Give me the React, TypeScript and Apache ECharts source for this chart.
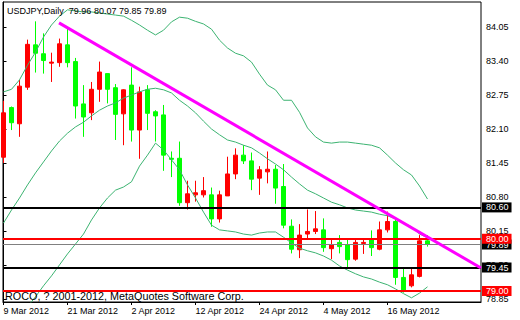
import React, { useEffect, useRef } from "react";
import * as echarts from "echarts";

const dates = [
  "9 Mar 2012", "12 Mar 2012", "13 Mar 2012", "14 Mar 2012", "15 Mar 2012", "16 Mar 2012", "19 Mar 2012", "20 Mar 2012",
  "21 Mar 2012", "22 Mar 2012", "23 Mar 2012", "26 Mar 2012", "27 Mar 2012", "28 Mar 2012", "29 Mar 2012", "30 Mar 2012",
  "2 Apr 2012", "3 Apr 2012", "4 Apr 2012", "5 Apr 2012", "6 Apr 2012", "9 Apr 2012", "10 Apr 2012", "11 Apr 2012",
  "12 Apr 2012", "13 Apr 2012", "16 Apr 2012", "17 Apr 2012", "18 Apr 2012", "19 Apr 2012", "20 Apr 2012", "23 Apr 2012",
  "24 Apr 2012", "25 Apr 2012", "26 Apr 2012", "27 Apr 2012", "30 Apr 2012", "1 May 2012", "2 May 2012", "3 May 2012",
  "4 May 2012", "7 May 2012", "8 May 2012", "9 May 2012", "10 May 2012", "11 May 2012", "14 May 2012", "15 May 2012",
  "16 May 2012", "17 May 2012", "18 May 2012", "21 May 2012", "22 May 2012", "23 May 2012",
];

const opens = [
  81.56, 82.51, 82.2, 82.9, 83.71, 83.54, 83.36, 83.37, 83.71, 83.39, 82.58, 82.41, 82.86, 83.16, 82.89, 82.39,
  82.94, 82.08, 82.85, 82.43, 82.37, 81.54, 81.54, 80.69, 80.84, 80.84, 80.84, 80.38, 80.82, 81.24, 81.6, 81.49,
  81.16, 81.28, 81.33, 81.0, 80.24, 79.79, 80.09, 80.14, 80.17, 79.81, 79.93, 79.88, 79.61, 79.91, 79.99, 79.8,
  80.17, 80.33, 79.26, 79.1, 79.28, 79.96,
];
const closes = [
  82.41, 82.22, 82.92, 83.72, 83.55, 83.41, 83.38, 83.73, 83.37, 82.54, 82.33, 82.86, 83.19, 82.86, 82.38, 82.85,
  82.08, 82.81, 82.4, 82.35, 81.6, 81.52, 80.69, 80.86, 80.88, 80.92, 80.38, 80.84, 81.24, 81.6, 81.49, 81.14,
  81.32, 81.33, 80.97, 80.26, 79.8, 80.07, 80.14, 80.19, 79.83, 79.88, 79.85, 79.6, 79.93, 79.93, 79.83, 80.17,
  80.33, 79.26, 79.02, 79.31, 79.96, 79.89,
];
const lows = [
  81.45, 82.08, 81.95, 82.85, 83.18, 83.16, 83.0, 83.29, 83.28, 82.3, 81.95, 82.27, 82.62, 82.59, 81.89, 81.79,
  81.86, 81.53, 82.08, 81.86, 81.3, 81.18, 80.63, 80.56, 80.71, 80.79, 80.23, 80.31, 80.82, 81.14, 81.43, 80.93,
  80.84, 81.06, 80.67, 80.2, 79.72, 79.63, 80.01, 80.09, 79.75, 79.61, 79.72, 79.42, 79.58, 79.71, 79.67, 79.78,
  80.12, 79.12, 78.97, 79.07, 79.26, 79.85,
];
const highs = [
  82.64, 82.53, 83.04, 83.81, 84.16, 83.93, 83.56, 83.83, 84.02, 83.46, 82.94, 83.0, 83.39, 83.16, 82.96, 82.86,
  83.28, 82.91, 82.94, 82.46, 82.56, 81.67, 81.86, 81.11, 81.11, 81.18, 80.98, 80.92, 81.57, 81.73, 81.79, 81.65,
  81.39, 81.67, 81.41, 81.43, 80.37, 80.28, 80.56, 80.53, 80.39, 79.99, 80.07, 79.98, 79.99, 80.01, 80.16, 80.33,
  80.52, 80.39, 79.44, 79.44, 80.07, 80.07,
];

const bbUpper = [
  82.81, 82.86, 83.04, 83.32, 83.57, 83.86, 84.09, 84.26, 84.38, 84.36, 84.34, 84.34, 84.32, 84.3, 84.28, 84.26,
  84.18, 84.09, 83.99, 83.9, 83.99, 84.15, 84.24, 84.22, 84.16, 84.11, 84.01, 83.8, 83.65, 83.55, 83.5, 83.38,
  83.15, 82.94, 82.85, 82.65, 82.65, 82.42, 82.12, 81.95, 81.85, 81.83, 81.85, 81.85, 81.83, 81.81, 81.79, 81.74,
  81.6, 81.45, 81.32, 81.22, 81.01, 80.76,
];
const bbMiddle = [
  80.3, 80.55, 80.78, 81.03, 81.26, 81.47, 81.68, 81.87, 82.02, 82.14, 82.23, 82.35, 82.46, 82.54, 82.6, 82.69,
  82.75, 82.81, 82.86, 82.88, 82.85, 82.79, 82.65, 82.54, 82.41, 82.25, 82.1, 81.99, 81.89, 81.85, 81.79, 81.74,
  81.64, 81.53, 81.43, 81.32, 81.18, 81.05, 80.93, 80.86, 80.78, 80.7, 80.65, 80.59, 80.55, 80.53, 80.51, 80.47,
  80.44, 80.38, 80.3, 80.23, 80.09, 80.02,
];
const bbLower = [
  78.1, 78.29, 78.49, 78.7, 78.89, 79.1, 79.29, 79.5, 79.71, 79.9, 80.09, 80.36, 80.59, 80.78, 80.93, 80.99,
  81.09, 81.39, 81.6, 81.83, 81.7, 81.51, 81.32, 81.03, 80.78, 80.51, 80.26, 80.17, 80.15, 80.13, 80.09, 80.07,
  80.11, 80.13, 80.13, 80.03, 79.92, 79.82, 79.77, 79.73, 79.67, 79.59, 79.48, 79.4, 79.33, 79.27, 79.23, 79.17,
  79.12, 79.04, 78.95, 78.87, 78.96, 79.08,
];

const priceTicks = [78.85, 79.5, 80.15, 80.8, 81.45, 82.1, 82.75, 83.4, 84.05];
const dateTickIndices = [0, 8, 16, 24, 32, 40, 48];

const trendX = [6.94, 59.69];
const trendY = [84.13, 79.44];

const levelValues = [80.6, 79.89, 80.0, 79.45, 79.0];
const levelLineColors = ["#000000", "#808080", "#ff0000", "#000000", "#ff0000"];
const levelLineWidths = [2, 1, 2, 2, 2];
const levelLabelBgs = ["#000000", "#000000", "#ff0000", "#000000", "#ff0000"];

const titleText = "USDJPY,Daily  79.96 80.07 79.85 79.89";
const copyrightText = "ROCO, ? 2001-2012, MetaQuotes Software Corp.";

const FONT = "Liberation Sans";

export default function App() {
  const ref = useRef<HTMLDivElement>(null);
  useEffect(() => {
    const chart = echarts.init(ref.current!, null, { renderer: "svg" });
    const candleData = opens.map((o, i) => [i, o, closes[i], lows[i], highs[i]]);
    const band = (arr: number[]) => arr.map((v, i) => [i, v]);
    const bandSeries = [bbUpper, bbMiddle, bbLower].map((arr) => ({
      type: "line",
      data: band(arr),
      symbol: "none",
      lineStyle: { color: "#3cb371", width: 1 },
      z: 3,
      silent: true,
    }));
    const option: any = {
      animation: false,
      backgroundColor: "#ffffff",
      textStyle: { fontFamily: FONT },
      grid: {
        left: 3,
        top: 2,
        width: 478,
        height: 300,
        show: true,
        borderColor: "#000000",
        borderWidth: 1,
        backgroundColor: "#ffffff",
      },
      xAxis: {
        type: "value",
        min: -0.0625,
        max: 59.6875,
        splitLine: { show: false },
        axisLine: { show: true, lineStyle: { color: "#000", width: 1 } },
        axisTick: {
          show: true,
          customValues: dateTickIndices,
          length: 3,
          lineStyle: { color: "#000" },
        },
        axisLabel: {
          customValues: dateTickIndices,
          formatter: (v: number) => dates[Math.round(v)] ?? "",
          align: "left",
          margin: 4,
          fontSize: 9,
          color: "#000",
          fontFamily: FONT,
        },
      },
      yAxis: {
        type: "value",
        position: "right",
        min: 78.79,
        max: 84.53,
        scale: true,
        splitLine: { show: false },
        axisLine: { show: true, lineStyle: { color: "#000", width: 1 } },
        axisTick: {
          show: true,
          customValues: priceTicks,
          length: 3,
          lineStyle: { color: "#000" },
        },
        axisLabel: {
          customValues: priceTicks,
          formatter: (v: number) => v.toFixed(2),
          margin: 5,
          fontSize: 9,
          color: "#000",
          fontFamily: FONT,
        },
      },
      series: [
        {
          type: "candlestick",
          data: candleData,
          encode: { x: 0, y: [1, 2, 3, 4] },
          barWidth: 5,
          itemStyle: {
            color: "#ff0000",
            color0: "#00ff00",
            borderColor: "#ff0000",
            borderColor0: "#00ff00",
            borderWidth: 1,
          },
          z: 2,
          silent: true,
        },
        ...bandSeries,
        {
          type: "line",
          data: trendX.map((x, i) => [x, trendY[i]]),
          symbol: "none",
          lineStyle: { color: "#ff00ff", width: 3 },
          z: 5,
          silent: true,
          markLine: {
            silent: true,
            symbol: ["none", "none"],
            animation: false,
            label: {
              show: true,
              position: "end",
              distance: 1,
              fontSize: 9,
              fontFamily: FONT,
              color: "#ffffff",
              padding: [1, 3, 0, 4],
              lineHeight: 9,
            },
            data: levelValues.map((v, i) => ({
              yAxis: v,
              lineStyle: { color: levelLineColors[i], width: levelLineWidths[i], type: "solid" },
              label: { formatter: v.toFixed(2), backgroundColor: levelLabelBgs[i] },
            })),
          },
        },
      ],
      graphic: [
        {
          type: "text",
          x: 7,
          y: 11,
          z: 100,
          style: { text: titleText, font: `9px "${FONT}"`, fill: "#000", verticalAlign: "middle" },
        },
        {
          type: "text",
          x: 5,
          y: 296,
          z: 100,
          style: { text: copyrightText, font: `10.8px "${FONT}"`, fill: "#000", verticalAlign: "middle" },
        },
      ],
    };
    chart.setOption(option);
    return () => chart.dispose();
  }, []);
  return (
    <div
      ref={ref}
      style={{ position: "fixed", left: 0, top: 0, width: 520, height: 320, background: "#fff" }}
    />
  );
}
